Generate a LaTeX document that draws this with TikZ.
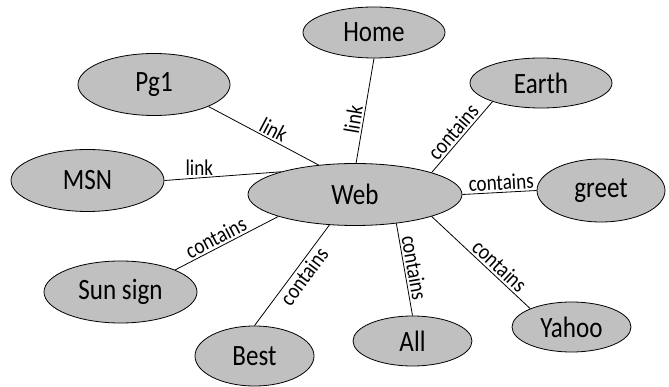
\documentclass[tikz,border=0pt]{standalone}
\usepackage{fontspec}
\setmainfont{Carlito}
\usetikzlibrary{shapes.geometric}
\definecolor{bubble}{RGB}{192,192,192}
% slightly condensed lettering
\newcommand{\narrowtxt}[1]{\scalebox{0.85}[1]{#1}}
\tikzset{
  entity/.style={ellipse, draw=black, line width=0.8pt, fill=bubble, inner sep=0pt,
                 font=\fontsize{29.5}{30}\selectfont},
  rel/.style={draw=black, line width=0.8pt},
  tag/.style={font=\fontsize{22.5}{23}\selectfont, inner sep=2pt},
}
\begin{document}
\begin{tikzpicture}[x=1pt,y=-1pt]
\useasboundingbox (0,0) rectangle (669,387);

% central concept
\node[entity, minimum width=214pt, minimum height=62pt] (web) at (355,194.5) {\narrowtxt{Web}};

% surrounding concepts
\node[entity, minimum width=142pt, minimum height=51pt] (home)  at (374,32.5)  {\narrowtxt{Home}};
\node[entity, minimum width=152pt, minimum height=62pt] (pg1)   at (154,84.5)  {\narrowtxt{Pg1}};
\node[entity, minimum width=142pt, minimum height=50pt] (earth) at (541,83)    {\narrowtxt{Earth}};
\node[entity, minimum width=153pt, minimum height=62pt] (msn)   at (87.5,180.5){\narrowtxt{MSN}};
\node[entity, minimum width=128pt, minimum height=63pt] (greet) at (601,190.5) {\narrowtxt{greet}};
\node[entity, minimum width=153pt, minimum height=62pt] (sun)   at (120.5,292) {\narrowtxt{Sun sign}};
\node[entity, minimum width=119pt, minimum height=60pt] (best)  at (254.5,356) {\narrowtxt{Best}};
\node[entity, minimum width=119pt, minimum height=50pt] (all)   at (412.5,341) {\narrowtxt{All}};
\node[entity, minimum width=119pt, minimum height=50pt] (yahoo) at (571.5,327) {\narrowtxt{Yahoo}};

% relations
\draw[rel] (pg1.338) -- node[tag, sloped, above, pos=0.55] {\narrowtxt{link}} (web.141);
\draw[rel] (msn.east) -- node[tag, above, pos=0.3] {\narrowtxt{link}} (web.163.6);
\draw[rel] (home.south) -- node[tag, sloped, above, pos=0.6] {\narrowtxt{link}} (web.88);
\draw[rel] (earth.201) -- node[tag, sloped, above, pos=0.52] {\narrowtxt{contains}} (web.16.6);
\draw[rel] (greet.west) -- node[tag, sloped, above, pos=0.47] {\narrowtxt{contains}} (web.east);
\draw[rel] (sun.22) -- node[tag, sloped, above, pos=0.44] {\narrowtxt{contains}} (web.196.6);
\draw[rel] (best.north) -- node[tag, sloped, below, pos=0.55] {\narrowtxt{contains}} (web.230);
\draw[rel] (all.north) -- node[tag, sloped, above, pos=0.5] {\narrowtxt{contains}} (web.325);
\draw[rel] (yahoo.156) -- node[tag, sloped, above, pos=0.38] {\narrowtxt{contains}} (web.344.4);
\end{tikzpicture}
\end{document}
